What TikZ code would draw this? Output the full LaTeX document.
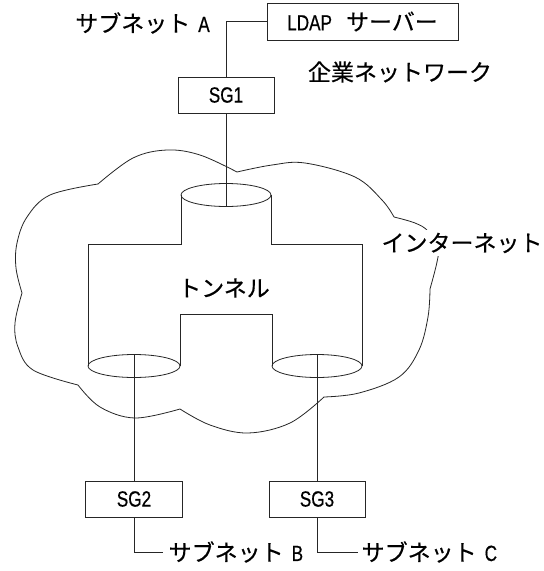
\documentclass[tikz,border=0pt]{standalone}
\usepackage{fontspec}
\setmainfont[FakeStretch=0.78,FakeBold=0.5]{Liberation Sans}
\newfontfamily\jp[FakeBold=0.4]{Noto Sans CJK JP}
\newcommand{\jtx}[1]{{\jp\fontsize{23}{27}\selectfont #1}}
\tikzset{
  ln/.style={line width=0.8pt, draw=black!85},
  box/.style={draw=black!85, line width=0.8pt, minimum height=36pt, inner sep=0pt,
              font=\fontsize{22}{26}\selectfont},
  lbl/.style={inner sep=0pt, font=\fontsize{22}{26}\selectfont},
}
\begin{document}
\begin{tikzpicture}[x=1pt,y=-1pt]
\useasboundingbox (0,0) rectangle (544,571);
\fill[white] (0,0) rectangle (544,571);

% cloud (Internet)
\draw[ln] plot[smooth,tension=0.6] coordinates {(98,184) (133,158) (167,150) (200,155) (237,172)};
\draw[ln] plot[smooth,tension=0.6] coordinates {(237,172) (272,165) (305,163) (355,177) (382,200) (394,217)};
\draw[ln] plot[smooth,tension=0.6] coordinates {(394,217) (415,223) (428,231) (438,247) (437,262) (430,289)};
\draw[ln] plot[smooth,tension=0.6] coordinates {(430,289) (428,317) (419,350) (399,377) (359,393) (324,397)};
\draw[ln] plot[smooth,tension=0.6] coordinates {(324,397) (290,423) (248,433) (210,425) (180,409)};
\draw[ln] plot[smooth,tension=0.6] coordinates {(180,409) (135,418) (100,407) (78,385)};
\draw[ln] plot[smooth,tension=0.6] coordinates {(78,385) (33,370) (18,347) (15,323) (22,293)};
\draw[ln] plot[smooth,tension=0.6] coordinates {(22,293) (16,268) (17,243) (27,217) (50,195) (98,184)};

% tunnel
\coordinate (tc) at (226,195);
\coordinate (blc) at (134,366);
\coordinate (brc) at (317,366);
\draw[ln] (181,195) -- (181,244) -- (88,244) -- (88,366);
\draw[ln] (271,195) -- (271,244) -- (362,244) -- (362,366);
\draw[ln] (180,366) -- (180,314) -- (272,314) -- (272,366);
\draw[ln] (tc) ellipse [x radius=45pt, y radius=11.5pt];
\draw[ln] (blc) ellipse [x radius=46pt, y radius=11.5pt];
\draw[ln] (brc) ellipse [x radius=45pt, y radius=11.5pt];
\coordinate (tbot) at (226,206.5);
\coordinate (bltop) at (134,354.5);
\coordinate (brtop) at (317,354.5);

% boxes
\node[box, minimum width=191pt, minimum height=37pt] (ldap) at (362.5,21.5) {LDAP\hspace{14pt}\jtx{サーバー}};
\node[box, minimum width=96pt] (sg1) at (226,95) {SG1};
\node[box, minimum width=97pt] (sg2) at (134,499) {SG2};
\node[box, minimum width=96pt] (sg3) at (317,499) {SG3};

% labels
\node[lbl] (subA) at (142.5,23) {\jtx{サブネット}\hspace{8pt}A};
\node[lbl] (corp) at (400,72) {\jtx{企業ネットワーク}};
\node[lbl] (tun) at (224,288) {\jtx{トンネル}};
\node[lbl, fill=white, inner sep=3pt] (inet) at (462,243) {\jtx{インターネット}};
\node[lbl, anchor=west] (subB) at (168.5,552) {\jtx{サブネット}\hspace{8pt}B};
\node[lbl, anchor=west] (subC) at (361.5,552) {\jtx{サブネット}\hspace{8pt}C};

% connectors
\draw[ln] (ldap.west) -| (sg1.north);
\draw[ln] (sg1.south) -- (tbot);
\draw[ln] (bltop) -- (sg2.north);
\draw[ln] (brtop) -- (sg3.north);
\draw[ln] (sg2.south) |- ([xshift=-5.5pt]subB.west);
\draw[ln] (sg3.south) |- ([xshift=-3.5pt]subC.west);
\end{tikzpicture}
\end{document}
